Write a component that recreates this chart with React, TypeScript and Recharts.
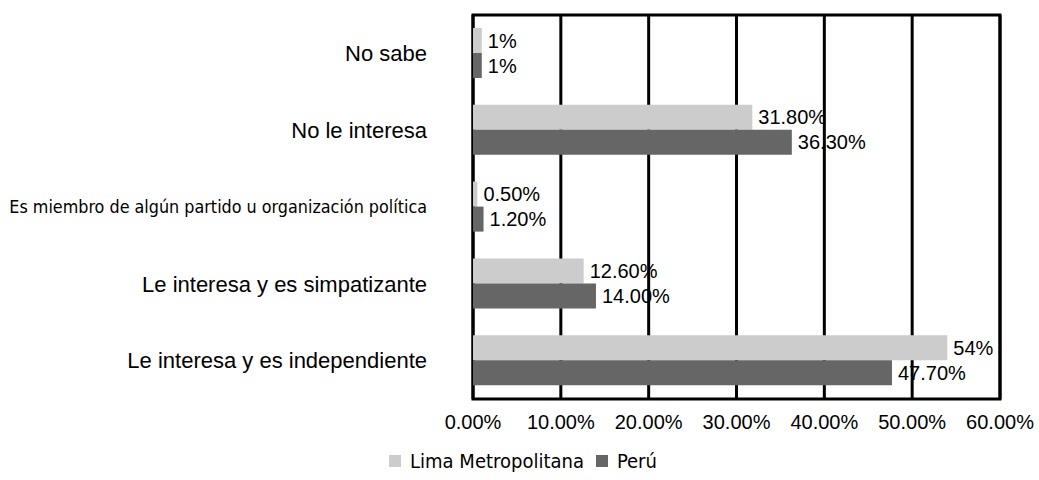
import { BarChart, Bar, XAxis, YAxis, CartesianGrid, Legend, LabelList, ReferenceArea } from 'recharts';

const categories = [
  'No sabe',
  'No le interesa',
  'Es miembro de algún partido u organización política',
  'Le interesa y es simpatizante',
  'Le interesa y es independiente',
];
const limaValues = [1, 31.8, 0.5, 12.6, 54];
const peruValues = [1, 36.3, 1.2, 14, 47.7];
const limaLabels = ['1%', '31.80%', '0.50%', '12.60%', '54%'];
const peruLabels = ['1%', '36.30%', '1.20%', '14.00%', '47.70%'];
const xTicks = [0, 10, 20, 30, 40, 50, 60];

const LIMA = '#cccccc';
const PERU = '#666666';

const data = categories.map((name, i) => ({
  name,
  lima: limaValues[i],
  peru: peruValues[i],
  limaLabel: limaLabels[i],
  peruLabel: peruLabels[i],
}));

const SANS = "'Liberation Sans', Arial, sans-serif";
const CONDENSED = "'DejaVu Sans Condensed', sans-serif";

// long label is drawn condensed in the original
const CategoryTick = ({ x, y, payload }: any) => {
  const long = payload.value.length > 35;
  return (
    <text
      x={x}
      y={y}
      dy="0.35em"
      textAnchor="end"
      fill="#000"
      fontSize={long ? 17.8 : 22}
      fontFamily={long ? CONDENSED : SANS}
    >
      {payload.value}
    </text>
  );
};

const LegendContent = ({ payload }: any) => (
  <div
    style={{
      display: 'flex',
      justifyContent: 'center',
      alignItems: 'center',
      paddingLeft: 58,
      fontFamily: CONDENSED,
      fontSize: 20,
      color: '#000',
    }}
  >
    {(payload || []).map((entry: any) => (
      <div key={entry.value} style={{ display: 'flex', alignItems: 'center', marginRight: 12 }}>
        <span style={{ width: 12, height: 12, background: entry.color, marginRight: 9, display: 'inline-block' }} />
        <span>{entry.value}</span>
      </div>
    ))}
  </div>
);

export default function App() {
  return (
    <div style={{ position: 'absolute', left: 0, top: 0, width: 1039, height: 480, background: '#fff' }}>
      <BarChart
        width={1039}
        height={480}
        data={data}
        layout="vertical"
        margin={{ top: 15, right: 39, left: 0, bottom: 1 }}
        barGap={0}
        barSize={25}
      >
        <CartesianGrid horizontal={false} stroke="#000" strokeWidth={3} />
        <XAxis
          type="number"
          domain={[0, 60]}
          ticks={xTicks}
          tickFormatter={(v: number) => `${v.toFixed(2)}%`}
          axisLine={false}
          tickLine={false}
          tickSize={0}
          tickMargin={16}
          height={50}
          tick={{ fill: '#000', fontSize: 20, fontFamily: SANS }}
        />
        <YAxis
          type="category"
          dataKey="name"
          width={473}
          axisLine={false}
          tickLine={false}
          tickSize={0}
          tickMargin={46}
          tick={<CategoryTick />}
        />
        <Bar dataKey="lima" name="Lima Metropolitana" fill={LIMA} isAnimationActive={false}>
          <LabelList dataKey="limaLabel" position="right" offset={6} fill="#000" fontSize={20} fontFamily={SANS} />
        </Bar>
        <Bar dataKey="peru" name="Perú" fill={PERU} isAnimationActive={false}>
          <LabelList dataKey="peruLabel" position="right" offset={6} fill="#000" fontSize={20} fontFamily={SANS} />
        </Bar>
        <ReferenceArea x1={0} x2={60} fill="none" stroke="#000" strokeWidth={3} ifOverflow="visible" />
        <Legend verticalAlign="bottom" height={30} content={<LegendContent />} />
      </BarChart>
    </div>
  );
}
